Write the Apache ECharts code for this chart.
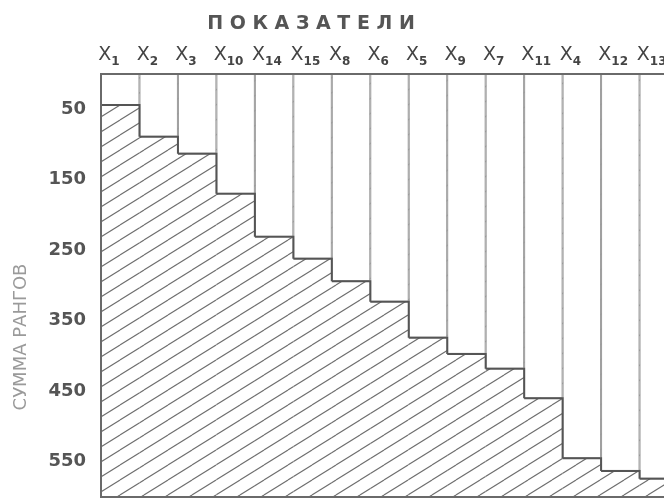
<!DOCTYPE html>
<html>
<head>
<meta charset="utf-8">
<script src="https://cdn.jsdelivr.net/npm/echarts@6/dist/echarts.min.js"></script>
<style>
  html, body { margin: 0; padding: 0; background: #fff; }
  #chart { width: 664px; height: 498px; }
</style>
</head>
<body>
<div id="chart"></div>
<script>
// Indicators, ordered by their rank sum
const categories = ['X1', 'X2', 'X3', 'X10', 'X14', 'X15', 'X8', 'X6', 'X5', 'X9', 'X7', 'X11', 'X4', 'X12', 'X13'];
// Rank sum for each indicator
const rankSums = [44, 89, 113, 170, 231, 262, 294, 323, 374, 397, 418, 460, 545, 563, 574];
// Labelled ticks on the rank-sum axis
const yTicks = [50, 150, 250, 350, 450, 550];
const yMax = 600;
const title = 'П О К А З А Т Е Л И';
const yName = 'СУММА РАНГОВ';

// Diagonal hatching tile ("/" lines), tiles seamlessly
function hatchTile() {
  const w = 24, h = 15;
  const c = document.createElement('canvas');
  c.width = w; c.height = h;
  const ctx = c.getContext('2d');
  ctx.strokeStyle = '#6e6e6e';
  ctx.lineWidth = 1.1;
  for (let k = -1; k <= 1; k++) {
    ctx.beginPath();
    ctx.moveTo(0, h + k * h);
    ctx.lineTo(w, k * h);
    ctx.stroke();
  }
  return c;
}

const chart = echarts.init(document.getElementById('chart'), null, { renderer: 'canvas' });

const option = {
  backgroundColor: '#ffffff',
  animation: false,
  title: {
    text: title,
    left: 306,
    textAlign: 'center',
    top: 10,
    textStyle: { fontFamily: 'DejaVu Sans', fontSize: 19, fontWeight: 'bold', color: '#555' }
  },
  graphic: [{
    type: 'text',
    x: 21, y: 337,
    rotation: Math.PI / 2,
    style: {
      text: yName,
      align: 'center', verticalAlign: 'middle',
      font: '18px "DejaVu Sans"',
      fill: '#9a9a9a'
    }
  }],
  grid: {
    left: 101, top: 74, width: 577, height: 423,
    outerBoundsMode: 'none',
    containLabel: false,
    show: true, z: 10,
    backgroundColor: 'transparent',
    borderColor: '#6a6a6a', borderWidth: 2
  },
  xAxis: {
    type: 'category',
    position: 'top',
    data: categories,
    axisLine: { show: false },
    axisTick: { show: false },
    axisLabel: {
      margin: 9,
      interval: 0,
      align: 'left',
      padding: [0, 0, 0, -22],
      formatter: v => '{x|X}{s|' + v.slice(1) + '}',
      rich: {
        x: { fontFamily: 'DejaVu Sans', fontSize: 19, color: '#444', verticalAlign: 'bottom' },
        s: { fontFamily: 'DejaVu Sans', fontSize: 12, fontWeight: 'bold', color: '#444', verticalAlign: 'bottom', padding: [0, 0, -3, 0] }
      }
    },
    splitLine: { show: false }
  },
  yAxis: {
    type: 'value',
    inverse: true,
    min: 0, max: yMax, interval: 50,
    axisLine: { show: false },
    axisTick: { show: false },
    splitLine: { show: false },
    axisLabel: {
      margin: 15,
      fontFamily: 'DejaVu Sans', fontSize: 18, fontWeight: 'bold', color: '#555',
      formatter: v => (yTicks.indexOf(v) >= 0 ? String(v) : '')
    }
  },
  series: [
    {
      // hatched body under the stepped profile
      type: 'bar',
      data: categories.map(() => yMax),
      barWidth: '100%',
      barGap: '-100%',
      silent: true,
      z: 1,
      itemStyle: { color: { image: hatchTile(), repeat: 'repeat' } }
    },
    {
      // open columns down to each rank sum
      type: 'bar',
      data: rankSums,
      barWidth: '100%',
      silent: true,
      z: 2,
      itemStyle: { color: '#ffffff', borderColor: '#9a9a9a', borderWidth: 1 }
    },
    {
      // stepped profile line
      type: 'custom',
      data: rankSums.map((v, i) => [i, v]),
      encode: { x: 0, y: 1 },
      silent: true,
      z: 5,
      renderItem: (params, api) => {
        const i = api.value(0);
        const v = api.value(1);
        const bw = api.size([1, 0])[0];
        const p = api.coord([i, v]);
        const pts = [[p[0] - bw / 2, p[1]], [p[0] + bw / 2, p[1]]];
        if (i < rankSums.length - 1) {
          const q = api.coord([i + 1, rankSums[i + 1]]);
          pts.push([p[0] + bw / 2, q[1]]);
        }
        return {
          type: 'polyline',
          shape: { points: pts },
          style: { stroke: '#555', lineWidth: 2, fill: null, lineJoin: 'miter' }
        };
      }
    }
  ]
};

chart.setOption(option);
</script>
</body>
</html>
